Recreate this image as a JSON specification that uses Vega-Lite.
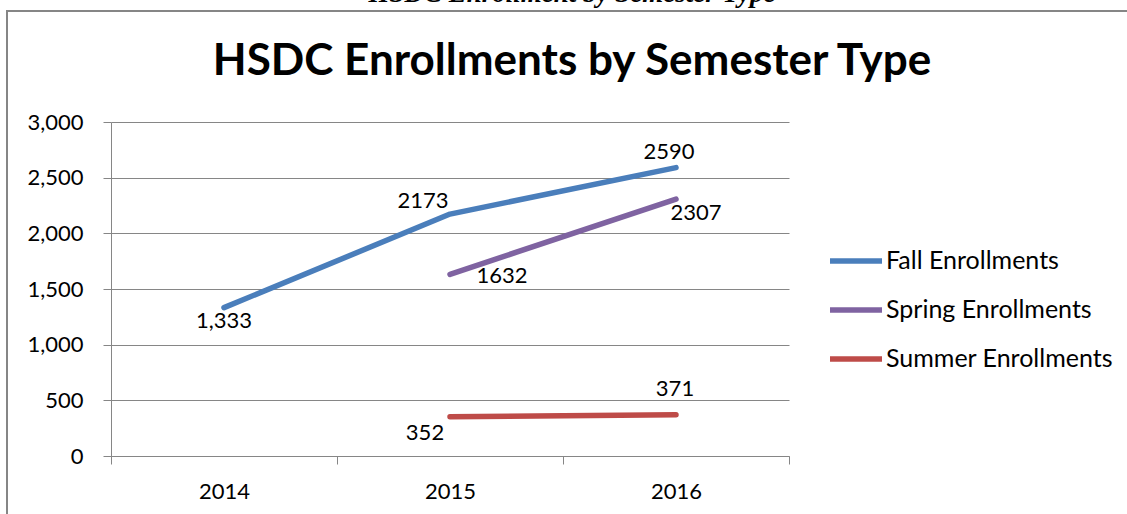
{
  "$schema": "https://vega.github.io/schema/vega-lite/v6.json",
  "width": 1130,
  "height": 520,
  "autosize": {"type": "none"},
  "padding": {"left": 7, "top": 11, "right": 0, "bottom": 0},
  "background": "white",
  "config": {
    "view": {"stroke": "#868686", "strokeWidth": 2},
    "font": "Lato",
    "axis": {
      "domainColor": "#868686",
      "domainWidth": 1,
      "tickColor": "#868686",
      "tickWidth": 1,
      "tickSize": 8,
      "gridColor": "#868686",
      "gridWidth": 1,
      "labelFont": "Lato",
      "labelFontSize": 22,
      "labelColor": "#000000",
      "title": null
    }
  },
  "title": {
    "text": "HSDC Enrollment by Semester Type",
    "subtitle": "HSDC Enrollments by Semester Type",
    "font": "Liberation Serif",
    "fontStyle": "italic",
    "fontWeight": "bold",
    "fontSize": 27,
    "color": "#000000",
    "subtitleFont": "Lato",
    "subtitleFontWeight": "bold",
    "subtitleFontSize": 44,
    "subtitleColor": "#000000",
    "subtitlePadding": 32,
    "anchor": "middle",
    "frame": "group",
    "offset": -74
  },
  "data": {
    "values": [
      {"series": "Fall Enrollments", "year": "2014", "value": 1333, "label": "1,333"},
      {"series": "Fall Enrollments", "year": "2015", "value": 2173, "label": "2173"},
      {"series": "Fall Enrollments", "year": "2016", "value": 2590, "label": "2590"},
      {"series": "Spring Enrollments", "year": "2015", "value": 1632, "label": "1632"},
      {"series": "Spring Enrollments", "year": "2016", "value": 2307, "label": "2307"},
      {"series": "Summer Enrollments", "year": "2015", "value": 352, "label": "352"},
      {"series": "Summer Enrollments", "year": "2016", "value": 371, "label": "371"}
    ]
  },
  "encoding": {
    "x": {
      "field": "year",
      "type": "nominal",
      "scale": {"type": "band", "range": [104, 782], "paddingInner": 0, "paddingOuter": 0},
      "axis": {
        "orient": "bottom",
        "offset": -75,
        "labelAngle": 0,
        "tickBand": "extent",
        "grid": false,
        "labelPadding": 17
      }
    },
    "y": {
      "field": "value",
      "type": "quantitative",
      "scale": {"domain": [0, 3000], "range": [445, 111], "nice": false, "zero": true},
      "axis": {
        "orient": "left",
        "offset": -104,
        "values": [0, 500, 1000, 1500, 2000, 2500, 3000],
        "format": ",d",
        "grid": true,
        "labelPadding": 20
      }
    }
  },
  "layer": [
    {
      "mark": {"type": "line", "strokeWidth": 5.5, "strokeCap": "round", "strokeJoin": "round"},
      "encoding": {
        "color": {
          "field": "series",
          "type": "nominal",
          "scale": {
            "domain": ["Fall Enrollments", "Spring Enrollments", "Summer Enrollments"],
            "range": ["#4A7EBB", "#7F63A1", "#BE4B48"]
          },
          "legend": {
            "title": null,
            "orient": "none",
            "legendX": 820,
            "legendY": 221,
            "symbolType": "stroke",
            "symbolSize": 2704,
            "symbolStrokeWidth": 5.5,
            "labelFont": "Lato",
            "labelFontSize": 25,
            "labelColor": "#000000",
            "labelOffset": 1,
            "rowPadding": 7,
            "labelLimit": 400
          }
        }
      }
    },
    {
      "transform": [{"filter": "datum.series == 'Fall Enrollments' && datum.year == '2014'"}],
      "mark": {"type": "text", "font": "Lato", "fontSize": 22, "color": "#000000", "baseline": "middle", "dx": 0, "dy": 13},
      "encoding": {"text": {"field": "label"}}
    },
    {
      "transform": [{"filter": "datum.series == 'Fall Enrollments' && datum.year == '2015'"}],
      "mark": {"type": "text", "font": "Lato", "fontSize": 22, "color": "#000000", "baseline": "middle", "dx": -27, "dy": -13},
      "encoding": {"text": {"field": "label"}}
    },
    {
      "transform": [{"filter": "datum.series == 'Fall Enrollments' && datum.year == '2016'"}],
      "mark": {"type": "text", "font": "Lato", "fontSize": 22, "color": "#000000", "baseline": "middle", "dx": -7, "dy": -16},
      "encoding": {"text": {"field": "label"}}
    },
    {
      "transform": [{"filter": "datum.series == 'Spring Enrollments' && datum.year == '2015'"}],
      "mark": {"type": "text", "font": "Lato", "fontSize": 22, "color": "#000000", "baseline": "middle", "dx": 52, "dy": 2},
      "encoding": {"text": {"field": "label"}}
    },
    {
      "transform": [{"filter": "datum.series == 'Spring Enrollments' && datum.year == '2016'"}],
      "mark": {"type": "text", "font": "Lato", "fontSize": 22, "color": "#000000", "baseline": "middle", "dx": 20, "dy": 14},
      "encoding": {"text": {"field": "label"}}
    },
    {
      "transform": [{"filter": "datum.series == 'Summer Enrollments' && datum.year == '2015'"}],
      "mark": {"type": "text", "font": "Lato", "fontSize": 22, "color": "#000000", "baseline": "middle", "dx": -25, "dy": 16},
      "encoding": {"text": {"field": "label"}}
    },
    {
      "transform": [{"filter": "datum.series == 'Summer Enrollments' && datum.year == '2016'"}],
      "mark": {"type": "text", "font": "Lato", "fontSize": 22, "color": "#000000", "baseline": "middle", "dx": -1, "dy": -26},
      "encoding": {"text": {"field": "label"}}
    }
  ]
}
